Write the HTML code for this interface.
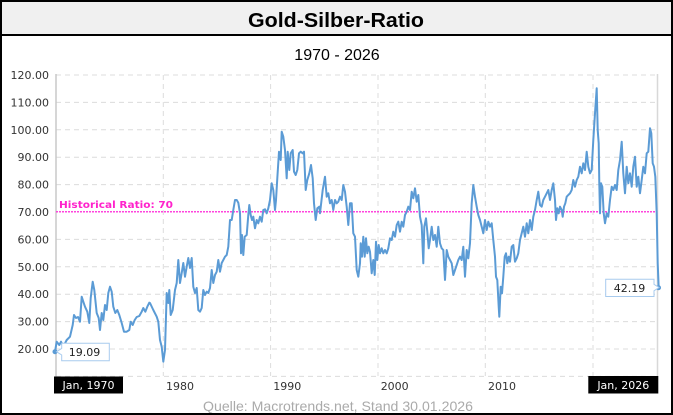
<!DOCTYPE html>
<html>
<head>
<meta charset="utf-8">
<style>
html,body{margin:0;padding:0;background:#fff;}
svg{display:block;}
</style>
</head>
<body>
<svg width="673" height="415" viewBox="0 0 673 415" xmlns="http://www.w3.org/2000/svg">
  <rect x="0" y="0" width="673" height="415" fill="#fff"/>
  <!-- title bar -->
  <rect x="1" y="1" width="671" height="34" fill="#f0f0f0"/>
  <line x1="0" y1="35" x2="673" y2="35" stroke="#000" stroke-width="2"/>
  <text x="336" y="27" text-anchor="middle" font-family="Liberation Sans, Arial, sans-serif" font-weight="bold" font-size="20" fill="#000" textLength="176" lengthAdjust="spacingAndGlyphs">Gold-Silber-Ratio</text>
  <text x="337" y="60" text-anchor="middle" font-family="Liberation Sans, Arial, sans-serif" font-size="16" fill="#000">1970 - 2026</text>

  <!-- horizontal gridlines -->
  <g stroke="#dcdcdc" stroke-width="1" stroke-dasharray="5,4">
    <line x1="56" y1="75" x2="657" y2="75"/>
    <line x1="56" y1="102.4" x2="657" y2="102.4"/>
    <line x1="56" y1="129.8" x2="657" y2="129.8"/>
    <line x1="56" y1="157.2" x2="657" y2="157.2"/>
    <line x1="56" y1="184.6" x2="657" y2="184.6"/>
    <line x1="56" y1="239.4" x2="657" y2="239.4"/>
    <line x1="56" y1="266.8" x2="657" y2="266.8"/>
    <line x1="56" y1="294.2" x2="657" y2="294.2"/>
    <line x1="56" y1="321.6" x2="657" y2="321.6"/>
    <line x1="56" y1="349" x2="657" y2="349"/>
    <line x1="56" y1="376.4" x2="657" y2="376.4"/>
    <!-- vertical -->
    <line x1="163.3" y1="75" x2="163.3" y2="376"/>
    <line x1="270.6" y1="75" x2="270.6" y2="376"/>
    <line x1="378" y1="75" x2="378" y2="376"/>
    <line x1="485.3" y1="75" x2="485.3" y2="376"/>
    <line x1="593" y1="75" x2="593" y2="376"/>
  </g>
  <line x1="56" y1="74" x2="56" y2="377" stroke="#c8c8c8" stroke-width="1.5"/>
  <line x1="657.5" y1="74" x2="657.5" y2="377" stroke="#d8d8d8" stroke-width="1.5"/>

  <!-- y labels -->
  <g font-family="DejaVu Sans, Verdana, sans-serif" font-size="11" fill="#333" text-anchor="end">
    <text x="49" y="79">120.00</text>
    <text x="49" y="106.4">110.00</text>
    <text x="49" y="133.8">100.00</text>
    <text x="49" y="161.2">90.00</text>
    <text x="49" y="188.6">80.00</text>
    <text x="49" y="216">70.00</text>
    <text x="49" y="243.4">60.00</text>
    <text x="49" y="270.8">50.00</text>
    <text x="49" y="298.2">40.00</text>
    <text x="49" y="325.6">30.00</text>
    <text x="49" y="353">20.00</text>
  </g>

  <!-- x labels -->
  <g font-family="DejaVu Sans, Verdana, sans-serif" font-size="11" fill="#333" text-anchor="middle">
    <text x="180" y="390">1980</text>
    <text x="287.3" y="390">1990</text>
    <text x="394.7" y="390">2000</text>
    <text x="502" y="390">2010</text>
  </g>

  <!-- historical ratio -->
  <line x1="56" y1="211.75" x2="657" y2="211.75" stroke="#ff44dd" stroke-width="1.5" stroke-dasharray="2,1"/>
  <text x="59" y="208" font-family="DejaVu Sans, Verdana, sans-serif" font-weight="bold" font-size="9.5" fill="#ff22cc" textLength="114" lengthAdjust="spacingAndGlyphs">Historical Ratio: 70</text>

  <!-- series -->
  <polyline fill="none" stroke="#5b9bd5" stroke-width="2" stroke-linejoin="round" stroke-linecap="round" points="
55,351.7 56.7,341.7 59.3,345 61,341.7 63.3,346.7 66.7,340 70,336.7 72.7,325 74,315 76,318 78,317 80,321.7 81.7,296.7 83.3,301.7 85,306.7 87.3,311.7 89.3,323 90.7,298 92.7,281.7 94.3,290 96.7,313 98.7,318 100,330 101.7,313 103.3,320 105,305 106.7,310 108.3,293 110,286.7 111.7,291.7 113.3,306.7 115.3,313 117.3,310 119.3,315 121.7,323 124,331.7 126.7,331.7 129.3,330 130.7,321.7 132.7,325 134.7,320 136.7,317 139.3,316 141.7,311.7 143.3,308 145.3,311.7 147.3,306.7 149.3,302.7
150,303 153.3,310 156.7,316.7 158.3,321.7 160,340 161.7,346.7 163.3,361.7 165,350 166.7,293 168.3,303 169.3,290 170.7,315 172.7,310 175,290 176.7,283 178.3,260 180,283 181.7,273 183.3,263 185,276.7 186.7,266.7 188.3,258 190,268 191.7,258 193.3,286.7 195,293 196.7,288 198.3,310 200,311.7 201.7,308 203.3,290 205,295 206.7,291.7 208.3,293 210,288 211.7,270 213.3,283 215,275 216.7,271.7 218.3,260 220,271.7 221.7,263 223.3,260 225,256.7 226.7,255 228.3,246.7 230,220 231.7,220 233.3,210 235,200 236.7,200 238.3,202.7 240,213.3 241,253.3 242,235 243.3,255 244.7,236.7 246.7,235 248.3,215 249.3,205 250.7,215 252,220 253.3,216.7 255,228.3 256.7,220 258.3,223.3 260,216.7 261.7,221.7 263.3,210 265,209.3 266.7,213.3 268.3,208.3 270,200 271.7,183.3 273.3,190 275,210 276,200 277.3,178.3 279,151.7 280.7,160 281.7,131.7 283.3,136.7 285,150 286.7,178.3 287.7,151.7 289.3,170 290.7,153.3 292.7,150 294,171.7 295.7,175 297.3,170 299,153.3 300.7,151.7 302.7,153.3 304,151.7 305.7,190 307.3,180 309.3,173.3 311,165 312.7,178.3 314,203.3 315.7,220 317.3,208.3 319.3,206.7
320,213.3 322.7,190 325,176.7 326.7,196.7 328.3,193.3 330,203.3 331.7,200 333.3,210 335,200 336.7,203.3 338.3,201.7 340,196.7 341.7,200 343.3,185 345,191.7 346.7,206.7 348.3,225 350,203.3 351.7,203.3 353.3,233.3 355,236.7 356.7,270 358.3,276.7 360,263.3 360.7,243.3 362,256.7 363.3,236.7 364.7,256.7 366,238.3 367.3,253.3 368.7,246.7 370,251.7 371.7,273.3 373.3,260 374.7,275 376,241.7 377.3,260 378.7,245 380,253.3 381.7,248.3 383.3,253.3 385,250 386.7,253.3 388.3,248.3 390,238.3 391.7,240 393.3,231.7 395,236.7 396.7,225 398.3,221.7 400,231.7 401.7,221.7 403.3,226.7 405,215 406.7,211.7 408.3,206.7 410,210 411.7,191.7 413.3,198.3 415,188.3 416.7,201.7 418.3,195 420,216.7 421.7,225 423.3,263.3 424.3,226.7 426,218.3 427.3,231.7 428.7,248.3 430,240 431.7,226.7 433.3,240 435,235 436.7,246.7 438.3,226.7 440,243.3 441.7,248.3 443.3,250 445,280 446.7,250 448.3,256.7 450,260 451.7,263.3 453.3,275 455,270 456.7,265 458.3,260 460,256.7 461.7,260 463.3,246.7 465,276.7 466.7,250 468.3,258.3 470,243.3 471.7,203.3 473.3,185 475,196.7 476.7,206.7 478.3,215
480,220 481.7,226.7 483.3,233.3 485,220 486.7,230 488.3,221.7 490,226.7 491.7,223.3 493.3,240 495,256.7 496,276.7 497.3,280 498.7,306.7 499.3,316.7 500.7,286.7 502,293.3 503.3,276.7 504.7,256.7 506,253.3 507.3,263.3 508.7,256.7 510,261.7 511.7,246.7 513.3,245 515,261.7 516.7,258.3 518.3,253.3 520,240 521.7,233.3 523.3,226.7 525,236.7 526.7,223.3 528.3,233.3 530,220 531.7,230 533.3,216.7 535,210 536.7,200 538.3,191.7 540,205 541.7,206.7 543.3,200 545,196.7 546.7,193.3 548.3,190 550,200 551.7,190 553.3,183.3 555,200 556,220 557.3,208.3 558.7,213.3 560,206.7 561.7,210 562.7,216.7 564,206.7 565.3,203.3 566.7,196.7 568.3,195 570,193.3 571.7,190 573.3,180 575,186.7 576.7,180 578.3,176.7 580,166.7 581.7,173.3 583.3,163.3 585,170 586.7,151.7 588.3,166.7 590,173.3 591.7,170 593.3,140 595,113.3 596.7,88.3 597.7,130 598.7,143.3 599.3,183.3 600,213.3 601,183.3 602.3,186.7 603.7,213.3 605,223.3 606.7,213.3 608.3,216.7 610,200 611.7,186.7 613.3,190 615,185 616.7,190 618.3,170 620,160 621.7,141.7 623.3,173.3 625,193.3 626.7,166.7 628.3,183.3 630,173.3 631.7,186.7 633.3,166.7 635,156.7 636.7,186.7 638.3,176.7 640,193.3 641.7,180 643.3,166.7 645,173.3 646.7,153.3 648.3,151.7 650,128.3 651.3,133.3 652.7,163.3 654,166.7 655.3,176.7 656.7,213.3 657.7,263.3 658.7,287.7"/>
  <circle cx="55" cy="351.7" r="2.5" fill="#5b9bd5"/>
  <circle cx="658.5" cy="287.7" r="2.5" fill="#5b9bd5"/>

  <!-- tooltip 19.09 -->
  <path d="M61.7,343.3 H109.3 V360.7 H61.7 V355 L56.5,351.7 L61.7,348.5 Z" fill="#fff" stroke="#a8cbee" stroke-width="1"/>
  <text x="84.5" y="356" text-anchor="middle" font-family="DejaVu Sans, Verdana, sans-serif" font-size="11" fill="#222">19.09</text>

  <!-- tooltip 42.19 -->
  <path d="M605.7,279.3 H654 V284.3 L659,287.5 L654,290.8 V296.5 H605.7 Z" fill="#fff" stroke="#a8cbee" stroke-width="1"/>
  <text x="629.5" y="292" text-anchor="middle" font-family="DejaVu Sans, Verdana, sans-serif" font-size="11" fill="#222">42.19</text>

  <!-- date boxes -->
  <rect x="54" y="376.5" width="69" height="17" fill="#000"/>
  <text x="88.5" y="389" text-anchor="middle" font-family="DejaVu Sans, Verdana, sans-serif" font-size="11" fill="#fff">Jan, 1970</text>
  <rect x="588.3" y="376" width="70" height="17.5" fill="#000"/>
  <text x="623.3" y="389" text-anchor="middle" font-family="DejaVu Sans, Verdana, sans-serif" font-size="11" fill="#fff">Jan, 2026</text>

  <!-- source -->
  <text x="338" y="411" text-anchor="middle" font-family="Liberation Sans, Arial, sans-serif" font-size="14" fill="#aaaaaa" textLength="270" lengthAdjust="spacingAndGlyphs">Quelle: Macrotrends.net, Stand 30.01.2026</text>

  <!-- outer border -->
  <rect x="1" y="1" width="671" height="413" fill="none" stroke="#000" stroke-width="2"/>
</svg>
</body>
</html>
